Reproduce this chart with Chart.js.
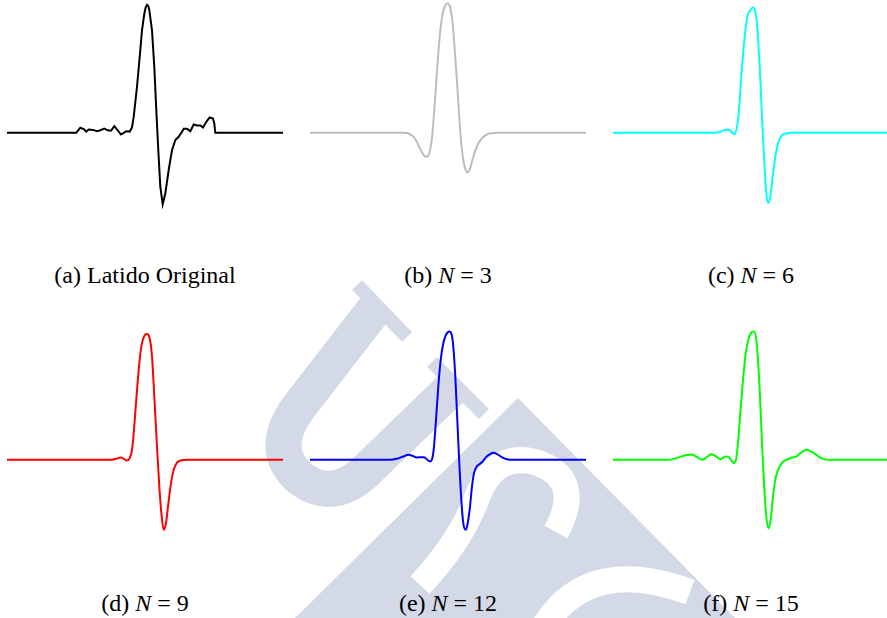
<!DOCTYPE html>
<html>
<head>
<meta charset="utf-8">
<script src="https://cdn.jsdelivr.net/npm/chart.js@4.4.1/dist/chart.umd.min.js"></script>
<style>
  html, body { margin: 0; padding: 0; background: #fff; overflow: hidden; }
  #page { position: relative; width: 887px; height: 618px; overflow: hidden; }
  #wm { position: absolute; left: 0; top: 0; }
  canvas { position: absolute; }
  .cap {
    position: absolute; width: 300px; text-align: center;
    font-family: "Liberation Serif", "Times New Roman", serif; font-size: 24px; color: #000;
    line-height: 28px; white-space: nowrap;
  }
</style>
</head>
<body>
<div id="page">
  <svg id="wm" width="887" height="618">
    <g fill="none" stroke="#d3d9e7">
      <path d="M 380 302 L 298 408 Q 268 450 300 478 Q 335 505 372 465 L 458 382" stroke-width="36"/>
      <path d="M 357 285 L 407 337" stroke-width="14"/>
      <path d="M 432 362 L 484 414" stroke-width="14"/>
    </g>
    <polygon points="518,398 735,618 295,618" fill="#d3d9e7"/>
    <g fill="none" stroke="#fff" stroke-width="26">
      <path d="M 556 532 Q 585 478 535 462 Q 495 452 478 495 Q 462 540 420 585"/>
      <path d="M 545 625 Q 590 555 690 592"/>
    </g>
  </svg>

  <canvas id="chartA" width="276" height="224" style="left:7px;top:1px"></canvas>
  <canvas id="chartB" width="276" height="224" style="left:310px;top:1px"></canvas>
  <canvas id="chartC" width="276" height="224" style="left:613px;top:1px"></canvas>
  <canvas id="chartD" width="276" height="224" style="left:7px;top:328px"></canvas>
  <canvas id="chartE" width="276" height="224" style="left:310px;top:328px"></canvas>
  <canvas id="chartF" width="276" height="224" style="left:613px;top:328px"></canvas>

  <div class="cap" style="left:-5px;top:261px">(a) Latido Original</div>
  <div class="cap" style="left:298px;top:261px">(b) <i>N</i> = 3</div>
  <div class="cap" style="left:601px;top:261px">(c) <i>N</i> = 6</div>
  <div class="cap" style="left:-5px;top:589px">(d) <i>N</i> = 9</div>
  <div class="cap" style="left:298px;top:589px">(e) <i>N</i> = 12</div>
  <div class="cap" style="left:601px;top:589px">(f) <i>N</i> = 15</div>
</div>

<script>
// sample positions (x) and amplitudes (y, normalised to the R peak)
const originalX = [0, 69.3, 73.3, 76.7, 79.3, 81.7, 86, 90, 93.3, 97.3, 100.7, 104, 107.3, 110.7, 114, 116.7, 119.3, 122.7, 125, 126.7, 130, 133.3, 135, 137.3, 138.7, 140, 141.3, 142.3, 145, 147.3, 149.3, 151.3, 153.3, 155.7, 158.3, 161.7, 165, 168.3, 171.7, 175, 176.7, 180, 183.3, 186.7, 190, 193.3, 196, 199.3, 202.7, 206, 207.3, 208.3, 276];
const originalY = [0, 0, 0.04, 0.03, 0.01, 0.026, 0.023, 0.013, 0.02, 0.034, 0.02, 0.016, 0.052, 0.02, -0.013, 0, 0.013, 0.01, 0.042, 0.125, 0.36, 0.646, 0.80, 0.93, 0.98, 1.0, 0.99, 0.96, 0.80, 0.516, 0.177, -0.135, -0.42, -0.557, -0.474, -0.29, -0.135, -0.057, -0.031, 0.008, 0.031, 0.031, 0.013, 0.065, 0.057, 0.057, 0.042, 0.086, 0.12, 0.112, 0.073, 0, 0];

const n3X = [0, 93.3, 100, 105, 110, 114, 116.7, 119.3, 121.7, 123.3, 125, 127.3, 130, 132.7, 135.3, 137.7, 140, 142.3, 144.3, 146.7, 149, 151, 153.3, 155.7, 157.7, 160, 163.3, 166.7, 171.7, 176.7, 181.7, 186.7, 276];
const n3Y = [0, 0, -0.01, -0.044, -0.122, -0.177, -0.1875, -0.16, -0.057, 0.073, 0.255, 0.516, 0.776, 0.932, 0.997, 1.01, 0.984, 0.88, 0.698, 0.4375, 0.151, -0.057, -0.214, -0.292, -0.31, -0.279, -0.1875, -0.109, -0.044, -0.013, -0.003, 0, 0];

const n6X = [0, 101.7, 108.3, 114.3, 117.7, 121, 123.3, 125, 126.7, 129, 131.7, 134.3, 137.3, 140, 142.3, 144.3, 146.7, 149, 151, 153, 155, 157.3, 159.3, 162.3, 165, 168.3, 173.3, 178.3, 276];
const n6Y = [0, 0, 0.013, 0.026, 0.016, -0.01, 0.02, 0.099, 0.255, 0.516, 0.75, 0.906, 0.958, 0.979, 0.945, 0.828, 0.516, 0.125, -0.1875, -0.448, -0.547, -0.5, -0.37, -0.1875, -0.083, -0.026, -0.005, 0, 0];

const n9X = [0, 103.3, 110, 114, 117.3, 120, 122.7, 125, 126.7, 129, 131.7, 134.3, 137.3, 140, 142.7, 145, 147.3, 150, 152.3, 154.7, 156.7, 159, 161, 164, 166.7, 170, 175, 180, 276];
const n9Y = [0, 0, 0.01, 0.018, 0.005, -0.005, 0.013, 0.078, 0.208, 0.443, 0.703, 0.885, 0.969, 0.984, 0.95, 0.807, 0.495, 0.104, -0.208, -0.443, -0.547, -0.495, -0.365, -0.182, -0.078, -0.021, -0.003, 0, 0];

const n12X = [0, 80, 86.7, 93.3, 98.3, 102.7, 106.7, 110.7, 114, 116.7, 120, 122.3, 124, 126, 128.3, 130.7, 133.3, 136, 139.3, 141.7, 143.3, 145.3, 147.3, 149.3, 151.3, 153.3, 155.7, 157.7, 160, 162, 164, 166.7, 170, 172.7, 176, 180, 183.3, 186.7, 191.7, 196.7, 203.3, 276];
const n12Y = [0, 0, 0.008, 0.026, 0.039, 0.031, 0.018, 0.021, 0.021, 0.005, -0.013, 0.013, 0.104, 0.3125, 0.573, 0.78, 0.911, 0.977, 1.003, 0.977, 0.885, 0.651, 0.3125, -0.026, -0.3125, -0.495, -0.547, -0.495, -0.365, -0.208, -0.104, -0.052, -0.031, -0.013, 0.021, 0.044, 0.055, 0.047, 0.021, 0.005, 0, 0];

const n15X = [0, 55, 63.3, 71.7, 78.3, 83.3, 89.3, 93.3, 98.3, 103.3, 107.7, 112.3, 115.7, 118.3, 121, 123.3, 125, 127.3, 130, 132.7, 135.7, 138.3, 141, 143.3, 145, 147, 149, 151, 153.3, 155.7, 157.7, 160, 162.3, 165, 168.3, 173.3, 178.3, 183.3, 188.3, 193.3, 198.3, 203.3, 208.3, 215, 276];
const n15Y = [0, 0, 0.013, 0.034, 0.042, 0.026, 0, 0.018, 0.044, 0.026, 0.005, 0.026, 0.021, -0.005, -0.026, 0.013, 0.13, 0.365, 0.625, 0.833, 0.95, 0.995, 1.003, 0.9375, 0.78, 0.495, 0.13, -0.182, -0.443, -0.534, -0.469, -0.286, -0.156, -0.078, -0.031, 0, 0.016, 0.026, 0.057, 0.078, 0.065, 0.039, 0.013, 0, 0];

function renderBeat(canvasId, xs, ys, color, smooth) {
  const ctx = document.getElementById(canvasId).getContext('2d');
  return new Chart(ctx, {
    type: 'line',
    data: {
      datasets: [{
        data: xs.map((x, i) => ({ x: x, y: ys[i] })),
        borderColor: color,
        borderWidth: 2,
        pointRadius: 0,
        fill: false,
        tension: 0,
        cubicInterpolationMode: smooth ? 'monotone' : 'default'
      }]
    },
    options: {
      responsive: false,
      animation: false,
      events: [],
      layout: { padding: 0 },
      plugins: {
        legend: { display: false },
        tooltip: { enabled: false }
      },
      scales: {
        x: { type: 'linear', min: 0, max: 276, display: false },
        y: { min: -0.72, max: 1.03, display: false }
      }
    }
  });
}

renderBeat('chartA', originalX, originalY, '#000000', false);
renderBeat('chartB', n3X, n3Y, '#bdbdbd', true);
renderBeat('chartC', n6X, n6Y, '#00ffff', true);
renderBeat('chartD', n9X, n9Y, '#ff0000', true);
renderBeat('chartE', n12X, n12Y, '#0000ff', true);
renderBeat('chartF', n15X, n15Y, '#00ff00', true);
</script>
</body>
</html>
